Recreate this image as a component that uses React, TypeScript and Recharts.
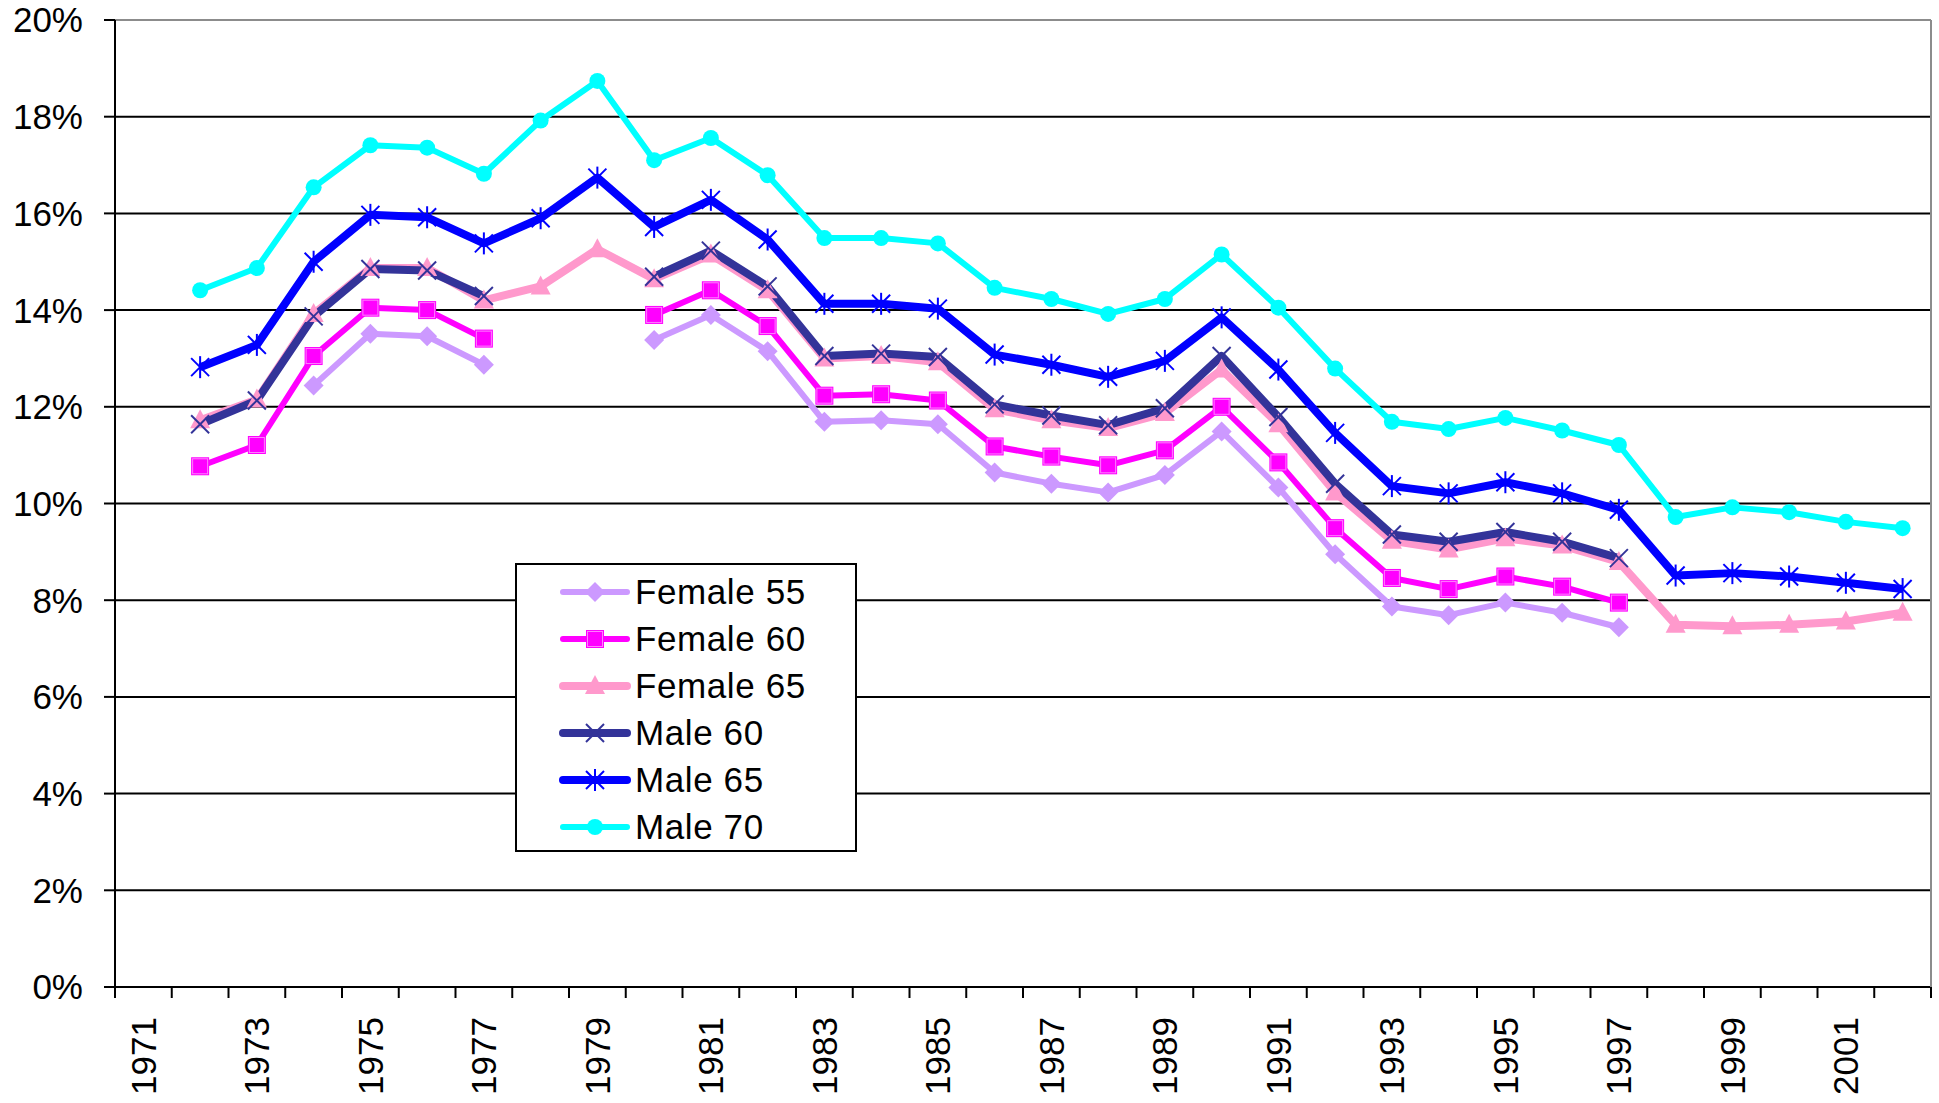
import React from "react";
import {
  LineChart,
  Line,
  XAxis,
  YAxis,
  CartesianGrid,
  Legend,
  ReferenceLine,
} from "recharts";

const FONT = '"Liberation Sans", Arial, sans-serif';

const YEARS = [
  "1971", "1972", "1973", "1974", "1975", "1976", "1977", "1978",
  "1979", "1980", "1981", "1982", "1983", "1984", "1985", "1986",
  "1987", "1988", "1989", "1990", "1991", "1992", "1993", "1994",
  "1995", "1996", "1997", "1998", "1999", "2000", "2001", "2002",
];

const Y_TICKS = [0, 2, 4, 6, 8, 10, 12, 14, 16, 18, 20];

// values in percent, null = no observation
const FEMALE_55 = [
  null, null, null, 12.44, 13.51, 13.46, 12.87, null, null, 13.38, 13.9,
  13.15, 11.69, 11.72, 11.64, 10.64, 10.41, 10.23, 10.59, 11.49, 10.33, 8.95,
  7.87, 7.69, 7.95, 7.74, 7.44, null, null, null, null, null,
];
const FEMALE_60 = [
  null, 10.77, 11.21, 13.05, 14.05, 14.0, 13.41, null, null, 13.9, 14.41,
  13.67, 12.23, 12.26, 12.13, 11.18, 10.97, 10.79, 11.1, 12.0, 10.85, 9.49,
  8.46, 8.23, 8.49, 8.28, 7.95, null, null, null, null, null,
];
const FEMALE_65 = [
  null, 11.72, 12.15, 13.92, 14.87, 14.87, 14.2, 14.49, 15.26, 14.64, 15.15,
  14.41, 13.0, 13.05, 12.92, 11.95, 11.72, 11.56, 11.87, 12.77, 11.64, 10.23,
  9.23, 9.05, 9.28, 9.13, 8.79, 7.49, 7.46, 7.49, 7.56, 7.74,
];
const MALE_60 = [
  null, 11.64, 12.13, 13.87, 14.85, 14.82, 14.29, null, null, 14.69, 15.23,
  14.49, 13.05, 13.1, 13.03, 12.05, 11.82, 11.62, 11.97, 13.05, 11.79, 10.41,
  9.36, 9.21, 9.41, 9.21, 8.87, null, null, null, null, null,
];
const MALE_65 = [
  null, 12.82, 13.28, 15.0, 15.97, 15.92, 15.38, 15.9, 16.74, 15.72, 16.28,
  15.46, 14.13, 14.13, 14.03, 13.08, 12.87, 12.62, 12.95, 13.85, 12.77, 11.46,
  10.36, 10.21, 10.44, 10.21, 9.87, 8.51, 8.56, 8.49, 8.36, 8.23,
];
const MALE_70 = [
  null, 14.41, 14.87, 16.54, 17.41, 17.36, 16.82, 17.92, 18.74, 17.1, 17.56,
  16.79, 15.49, 15.49, 15.38, 14.46, 14.23, 13.92, 14.23, 15.15, 14.05, 12.79,
  11.69, 11.54, 11.77, 11.51, 11.21, 9.72, 9.92, 9.82, 9.62, 9.49,
];

type Shape = "diamond" | "square" | "triangle" | "x" | "star" | "circle";

const SERIES: { key: string; name: string; color: string; width: number; shape: Shape; values: (number | null)[] }[] = [
  { key: "f55", name: "Female 55", color: "#CC99FF", width: 6, shape: "diamond", values: FEMALE_55 },
  { key: "f60", name: "Female 60", color: "#FF00FF", width: 6, shape: "square", values: FEMALE_60 },
  { key: "f65", name: "Female 65", color: "#FF99CC", width: 8, shape: "triangle", values: FEMALE_65 },
  { key: "m60", name: "Male 60", color: "#333399", width: 8, shape: "x", values: MALE_60 },
  { key: "m65", name: "Male 65", color: "#0000FF", width: 8, shape: "star", values: MALE_65 },
  { key: "m70", name: "Male 70", color: "#00FFFF", width: 6, shape: "circle", values: MALE_70 },
];

const data = YEARS.map((year, i) => {
  const row: Record<string, any> = { year };
  SERIES.forEach((s) => {
    row[s.key] = s.values[i];
  });
  return row;
});

function Marker({ cx, cy, shape, color }: { cx: number; cy: number; shape: Shape; color: string }) {
  switch (shape) {
    case "diamond":
      return <polygon points={`${cx},${cy - 10} ${cx + 10},${cy} ${cx},${cy + 10} ${cx - 10},${cy}`} fill={color} />;
    case "square":
      return (
        <g>
          <rect x={cx - 9} y={cy - 9} width={18} height={18} fill={color} />
          <rect x={cx - 7.5} y={cy - 7.5} width={15} height={15} fill="none" stroke="#ff80ff" strokeWidth={1} />
        </g>
      );
    case "triangle":
      return <polygon points={`${cx},${cy - 11} ${cx + 10},${cy + 8} ${cx - 10},${cy + 8}`} fill={color} />;
    case "x":
      return (
        <g stroke={color} strokeWidth={2}>
          <line x1={cx - 9} y1={cy - 9} x2={cx + 9} y2={cy + 9} />
          <line x1={cx - 9} y1={cy + 9} x2={cx + 9} y2={cy - 9} />
        </g>
      );
    case "star":
      return (
        <g stroke={color} strokeWidth={2}>
          <line x1={cx - 9} y1={cy - 9} x2={cx + 9} y2={cy + 9} />
          <line x1={cx - 9} y1={cy + 9} x2={cx + 9} y2={cy - 9} />
          <line x1={cx} y1={cy - 11} x2={cx} y2={cy + 11} />
        </g>
      );
    default:
      return <circle cx={cx} cy={cy} r={8} fill={color} />;
  }
}

function makeDot(shape: Shape, color: string) {
  return (props: any) => {
    const { cx, cy, index, value } = props;
    if (cy == null || value == null || isNaN(cy)) return <g key={`d-${index}`} />;
    return (
      <g key={`d-${index}`}>
        <Marker cx={cx} cy={cy} shape={shape} color={color} />
      </g>
    );
  };
}

function YearTick(props: any) {
  const { x, y, payload } = props;
  const half = payload.offset ?? 0;
  const idx = YEARS.indexOf(String(payload.value));
  const ty = y + 30;
  return (
    <g>
      <line x1={x - half} y1={y} x2={x - half} y2={y + 11} stroke="#000" strokeWidth={2} />
      {idx === YEARS.length - 1 && (
        <line x1={x + half} y1={y} x2={x + half} y2={y + 11} stroke="#000" strokeWidth={2} />
      )}
      {idx % 2 === 0 && (
        <text
          x={x}
          y={ty}
          transform={`rotate(-90 ${x} ${ty})`}
          textAnchor="end"
          dominantBaseline="central"
          fontSize={35}
          fontFamily={FONT}
          fill="#000"
        >
          {payload.value}
        </text>
      )}
    </g>
  );
}

function LegendBox() {
  return (
    <div
      style={{
        border: "2px solid #000",
        background: "#fff",
        width: 338,
        paddingTop: 3,
        fontFamily: FONT,
        boxSizing: "content-box",
      }}
    >
      {SERIES.map((s) => (
        <div key={s.key} style={{ display: "flex", alignItems: "center", height: 47 }}>
          <svg width={118} height={30} style={{ display: "block" }}>
            <line x1={46} y1={15} x2={110} y2={15} stroke={s.color} strokeWidth={s.width} strokeLinecap="round" />
            <Marker cx={78} cy={15} shape={s.shape} color={s.color} />
          </svg>
          <span style={{ fontSize: 35, letterSpacing: 0.6, color: "#000", lineHeight: 1 }}>{s.name}</span>
        </div>
      ))}
    </div>
  );
}

export default function App() {
  return (
    <div style={{ position: "absolute", left: 0, top: 0, width: 1939, height: 1103, background: "#fff" }}>
      <LineChart width={1939} height={1103} data={data} margin={{ top: 20, right: 0, bottom: 0, left: 0 }}>
        <CartesianGrid vertical={false} stroke="#000" strokeWidth={2} />
        <XAxis
          dataKey="year"
          scale="band"
          interval={0}
          height={116}
          tickSize={0}
          tickMargin={0}
          tickLine={false}
          axisLine={{ stroke: "#000", strokeWidth: 2 }}
          tick={<YearTick />}
        />
        <YAxis
          domain={[0, 20]}
          ticks={Y_TICKS}
          width={115}
          tickSize={11}
          tickMargin={21}
          tickFormatter={(v: number) => `${v}%`}
          tick={{ fontSize: 35, fill: "#000", fontFamily: FONT }}
          tickLine={{ stroke: "#000", strokeWidth: 2 }}
          axisLine={{ stroke: "#000", strokeWidth: 2 }}
          allowDataOverflow
        />
        <YAxis
          yAxisId="frame"
          orientation="right"
          domain={[0, 20]}
          width={8}
          tick={false}
          tickLine={false}
          axisLine={{ stroke: "#8c8c8c", strokeWidth: 2 }}
        />
        <ReferenceLine y={20} stroke="#8c8c8c" strokeWidth={2} />
        {SERIES.map((s) => (
          <Line
            key={s.key}
            type="linear"
            dataKey={s.key}
            name={s.name}
            stroke={s.color}
            strokeWidth={s.width}
            strokeLinejoin="round"
            dot={makeDot(s.shape, s.color)}
            activeDot={false}
            isAnimationActive={false}
          />
        ))}
        <Legend
          layout="vertical"
          align="center"
          verticalAlign="middle"
          content={<LegendBox />}
          wrapperStyle={{ left: 515, top: 563, width: "auto" }}
        />
      </LineChart>
    </div>
  );
}
